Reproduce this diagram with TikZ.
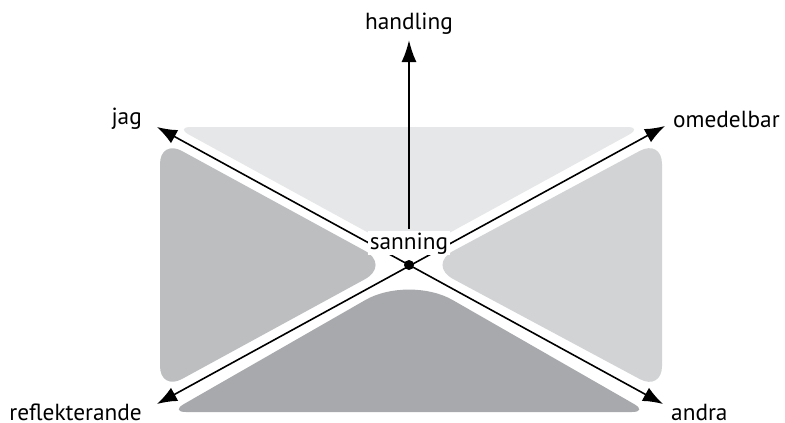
\documentclass[tikz,border=0pt]{standalone}
\usepackage{fontspec}
\setmainfont{PT Sans}
\usetikzlibrary{arrows.meta}
\definecolor{ctop}{HTML}{E6E7E8}
\definecolor{cleft}{HTML}{BCBEC0}
\definecolor{cright}{HTML}{D1D3D4}
\definecolor{cbot}{HTML}{A7A9AC}
\tikzset{
  lbl/.style={font=\fontsize{23.3}{28}\selectfont, inner sep=0pt},
  axis/.style={line width=1.6pt, {Latex[length=20pt,width=15pt]}-{Latex[length=20pt,width=15pt]}},
  up/.style={line width=2pt, -{Latex[length=22pt,width=15pt]}}
}
\begin{document}
\begin{tikzpicture}[x=1pt,y=-1pt]
\path[use as bounding box] (0,0) rectangle (785,423);
% shapes (rounding option placed before the segment entering each corner)
\fill[ctop] (409,127) [rounded corners=16] -- (643,127) [rounded corners=50] -- (409,255) [rounded corners=16] -- (175,127) [sharp corners] -- cycle;
\fill[cbot] (409,412) [rounded corners=16] -- (170,412) [rounded corners=50] -- (409,275) [rounded corners=16] -- (648,412) [sharp corners] -- cycle;
\fill[cleft] (160,265) [rounded corners=25] -- (160,139) [rounded corners=30] -- (391,265) [rounded corners=25] -- (160,391) [sharp corners] -- cycle;
\fill[cright] (662,265) [rounded corners=25] -- (662,391) [rounded corners=30] -- (427,265) [rounded corners=25] -- (662,139) [sharp corners] -- cycle;
% coordinates
\coordinate (O) at (409,265);
\coordinate (tjag) at (157,127);
\coordinate (tomed) at (665,126);
\coordinate (trefl) at (157,404);
\coordinate (tandra) at (663,404);
\coordinate (thand) at (409,40);
\draw[axis] (tjag) -- (tandra);
\draw[axis] (trefl) -- (tomed);
\node[lbl, fill=white, inner sep=1.5pt, anchor=base] (sanning) at (409,249) {sanning};
\draw[up] (sanning.north) ++(0,-2) coordinate (sbase) -- (thand);
\fill (O) circle (5);
\node[lbl, anchor=base] (handling) at (409,29) {handling};
\node[lbl, anchor=base east] (jag) at (142,124) {jag};
\node[lbl, anchor=base west] (omedelbar) at (673,127) {omedelbar};
\node[lbl, anchor=base east, text depth=0pt] (reflekterande) at (142,420) {reflekterande};
\node[lbl, anchor=base west, text depth=0pt] (andra) at (671,420) {andra};
\end{tikzpicture}
\end{document}
